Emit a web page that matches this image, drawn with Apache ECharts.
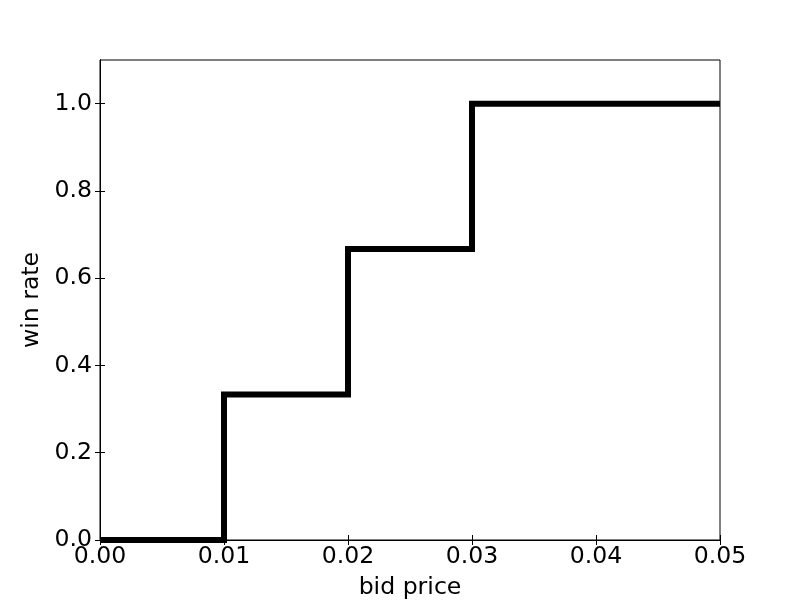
<!DOCTYPE html>
<html><head><meta charset="utf-8">
<script src="https://cdn.jsdelivr.net/npm/echarts@6/dist/echarts.min.js"></script>
<style>html,body{margin:0;padding:0;background:#fff}#c{width:800px;height:600px}</style>
</head><body><div id="c"></div>
<script>
const bidPrice = [0, 0.01, 0.02, 0.03, 0.05];
const winRate = [0, 1/3, 2/3, 1, 1];
const xTicks = [0, 0.01, 0.02, 0.03, 0.04, 0.05];
const yTicks = [0, 0.2, 0.4, 0.6, 0.8, 1.0];

const font = 'DejaVu Sans';
const fs = 23.6;
const chart = echarts.init(document.getElementById('c'));
const tick = vals => ({show: true, inside: true, length: 5, customValues: vals, lineStyle: {color: '#000', width: 1}});
const line = {show: true, lineStyle: {color: '#000', width: 1}};
chart.setOption({
  animation: false,
  grid: {left: 100, top: 60, width: 620, height: 480, outerBoundsMode: 'none', containLabel: false,
    show: true, borderColor: '#000', borderWidth: 1, backgroundColor: 'transparent'},
  xAxis: [{
    type: 'value', min: 0, max: 0.05,
    name: 'bid price', nameLocation: 'middle', nameGap: 36,
    nameTextStyle: {fontFamily: font, fontSize: fs, color: '#000'},
    axisLine: line, axisTick: tick(xTicks), splitLine: {show: false},
    axisLabel: {fontFamily: font, fontSize: fs, color: '#000', margin: 5, customValues: xTicks,
      formatter: v => v.toFixed(2)}
  }, {
    type: 'value', position: 'top', min: 0, max: 0.05,
    axisLine: line, axisTick: tick(xTicks), axisLabel: {show: false}, splitLine: {show: false}
  }],
  yAxis: [{
    type: 'value', min: 0, max: 1.1,
    name: 'win rate', nameLocation: 'middle', nameGap: 52,
    nameTextStyle: {fontFamily: font, fontSize: fs, color: '#000'},
    axisLine: line, axisTick: tick(yTicks), splitLine: {show: false},
    axisLabel: {fontFamily: font, fontSize: fs, color: '#000', margin: 8, customValues: yTicks,
      formatter: v => v.toFixed(1)}
  }, {
    type: 'value', position: 'right', min: 0, max: 1.1,
    axisLine: line, axisTick: tick(yTicks), axisLabel: {show: false}, splitLine: {show: false}
  }],
  series: [{
    type: 'line', step: 'end', clip: true,
    data: bidPrice.map((x, i) => [x, winRate[i]]),
    symbol: 'none',
    lineStyle: {color: '#000', width: 6, cap: 'butt', join: 'miter'}
  }]
});
</script></body></html>
